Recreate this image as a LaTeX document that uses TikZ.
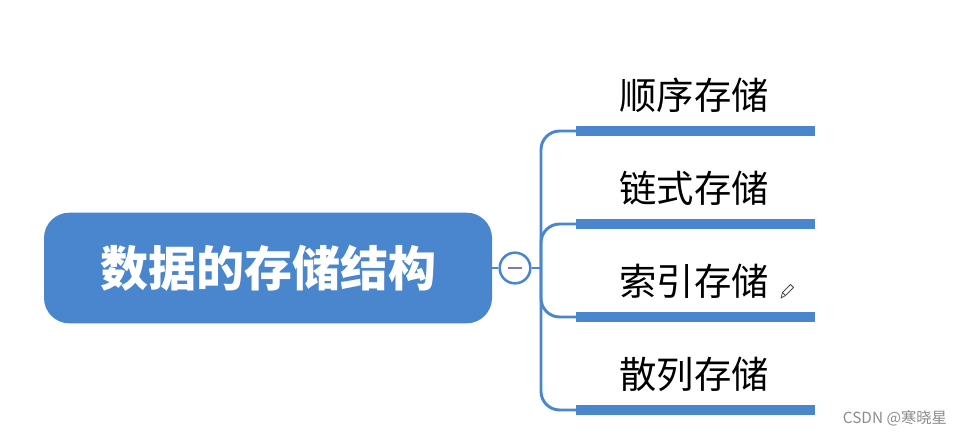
\documentclass[tikz,border=0pt]{standalone}
\usepackage{fontspec}
\usepackage{tikz}
\newfontfamily\cjk{Noto Sans CJK SC}
\definecolor{mapblue}{RGB}{74,134,206}
\definecolor{foldmark}{RGB}{128,122,168}

\begin{document}
\begin{tikzpicture}[x=0.75pt,y=-0.75pt,
  branch/.style={mapblue,line width=2.2pt,rounded corners=14pt},
  bar/.style={mapblue,line width=7.5pt},
  leaf/.style={font=\cjk\fontsize{28}{32}\selectfont,text=black,inner sep=0pt}]
\useasboundingbox (0,0) rectangle (967,437);
\node[fill=mapblue,rounded corners=19pt,minimum width=336pt,minimum height=83pt,
  text=white,font=\cjk\bfseries\fontsize{36}{40}\selectfont] (root) at (268,268) {数据的存储结构};
\node[circle,draw=mapblue,line width=1.9pt,fill=white,minimum size=23pt,inner sep=0pt] (fold) at (515,268) {};
\draw[foldmark,line width=1.8pt] ([xshift=-5.5pt]fold.center) -- ([xshift=5.5pt]fold.center);
\coordinate (hub) at (541,268);
\draw[branch] (root.east) -- (fold.west);
\draw[branch] (fold.east) -- (hub);
\coordinate (seq-s) at (576,131);
\coordinate (seq-e) at (815,131);
\coordinate (link-s) at (576,224);
\coordinate (link-e) at (815,224);
\coordinate (index-s) at (576,317);
\coordinate (index-e) at (815,317);
\coordinate (hash-s) at (576,410);
\coordinate (hash-e) at (815,410);
\draw[branch] (hub) |- (seq-s);
\draw[branch] (hub) |- (link-s);
\draw[branch] (hub) |- (index-s);
\draw[branch] (hub) |- (hash-s);
\draw[bar] (seq-s) -- (seq-e);
\draw[bar] (link-s) -- (link-e);
\draw[bar] (index-s) -- (index-e);
\draw[bar] (hash-s) -- (hash-e);
\node[leaf] (seq) at (694,95) {顺序存储};
\node[leaf] (link) at (694,188) {链式存储};
\node[leaf] (index) at (694,281) {索引存储};
\node[leaf] (hash) at (694,374) {散列存储};
% pencil cursor
\draw[black!70,line width=0.6pt,line join=round] (781,298) -- (782.5,292.5) -- (790.5,284.5) -- (793.5,287.5) -- (785.5,295.5) -- cycle;
\draw[black!70,line width=0.6pt] (782.5,292.5) -- (785.5,295.5);
\node[font=\cjk\fontsize{11.5}{13}\selectfont,text=black!45] (mark) at (895,418) {CSDN @寒晓星};
\end{tikzpicture}
\end{document}
